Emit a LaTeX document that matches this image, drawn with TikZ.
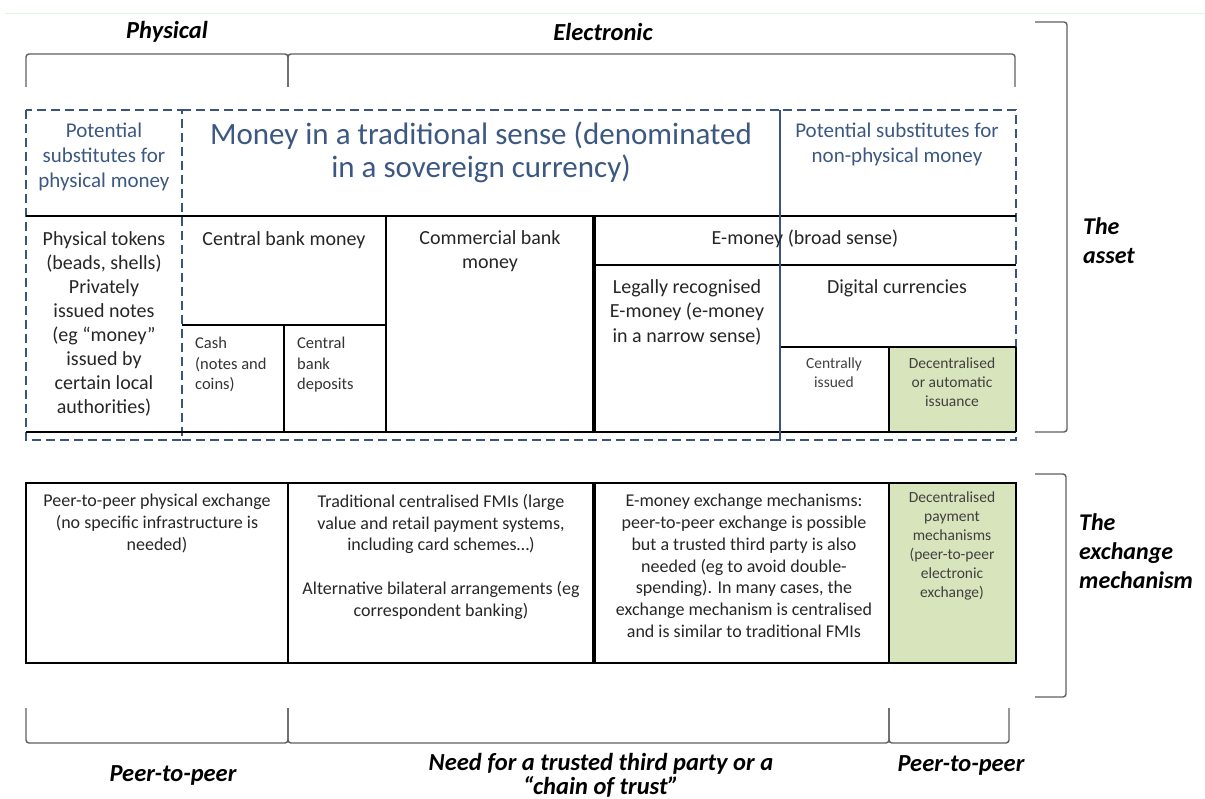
\documentclass[tikz,border=0pt]{standalone}
\usepackage{fontspec}
\setmainfont{Carlito}
\usetikzlibrary{positioning}
\definecolor{dashblue}{RGB}{58,84,125}
\definecolor{headblue}{RGB}{60,88,130}
\definecolor{cellgreen}{RGB}{216,228,188}
\definecolor{bracegray}{RGB}{95,95,95}
\definecolor{faintgreen}{RGB}{222,245,222}
\newcommand{\fsz}[2]{\fontsize{#1}{#2}\selectfont}

\begin{document}
\begin{tikzpicture}[x=1pt,y=-1pt,
    rule/.style={draw=black,line width=2.2pt},
    thinrule/.style={draw=black,line width=1.4pt},
    boldrule/.style={draw=black,line width=3.4pt},
    dashbox/.style={draw=dashblue,line width=2.8pt,dash pattern=on 9pt off 5pt},
    bracket/.style={draw=bracegray,line width=1.4pt,rounded corners=3pt},
    txt/.style={inner sep=0pt,anchor=north,align=center,text=black!85,font=\fsz{20}{24}},
    small/.style={inner sep=0pt,anchor=north west,align=left,text=black!80,font=\fsz{16.5}{20.5}},
    tiny/.style={inner sep=0pt,anchor=north,align=center,text=black!75,font=\fsz{15.5}{19}},
    mech/.style={inner sep=0pt,anchor=north,align=center,text=black!85,font=\fsz{18}{21.8}},
    head/.style={inner sep=0pt,anchor=north,align=center,text=headblue},
    side/.style={inner sep=0pt,anchor=north west,align=left,font=\fsz{24}{29}\bfseries\itshape},
    grp/.style={inner sep=0pt,align=center,font=\fsz{24.5}{28}\bfseries\itshape}]

    \useasboundingbox (0,0) rectangle (1205,799);
    \draw[faintgreen,line width=0.8pt] (5,13) -- (1205,13);

    % group labels
    \node[grp] (phys) at (167,32) {Physical};
    \node[grp] (elec) at (603,32) {Electronic};
    \draw[bracket] (26,87) |- (288,54) -- (288,87);
    \draw[bracket] (288,87) |- (1015,54) -- (1015,87);

    % the asset
    \fill[cellgreen] (889,347) rectangle (1016,432);
    \draw[dashbox] (26,110) rectangle (182,440);
    \draw[dashbox] (182,110) -- (780,110) (182,440) -- (780,440);
    \draw[dashbox] (780,110) rectangle (1016,440);

    \draw[rule] (26,216) -- (1016,216) (26,432) -- (1016,432);
    \draw[thinrule] (182,325) -- (386,325) (284,325) -- (284,432);
    \draw[rule] (386,216) -- (386,432);
    \draw[boldrule] (594,216) -- (594,432);
    \draw[rule] (594,265) -- (1016,265) (780,347) -- (1016,347);
    \draw[rule] (889,347) -- (889,432) (1016,347) -- (1016,432);
    \draw[dashblue,line width=2.4pt] (780,110) -- (780,440);

    \node[head,font=\fsz{21}{25}] (subphys) at (104,123) {Potential\\substitutes for\\physical money};
    \node[head,font=\fsz{31}{33}] (trad) at (481,122) {Money in a traditional sense (denominated\\in a sovereign currency)};
    \node[head,font=\fsz{21}{25}] (subnon) at (897,123) {Potential substitutes for\\non-physical money};

    \node[txt] (tokens) at (104,231) {Physical tokens\\(beads, shells)\\Privately\\issued notes\\(eg “money”\\issued by\\certain local\\authorities)};
    \node[txt] (cbm) at (284,231) {Central bank money};
    \node[small] (cash) at (195,337) {Cash\\(notes and\\coins)};
    \node[small] (cbdep) at (297,337) {Central\\bank\\deposits};
    \node[txt] (combank) at (490,230) {Commercial bank\\money};
    \node[txt] (emoney) at (805,230) {E-money (broad sense)};
    \node[txt,font=\fsz{20}{24.5}] (legal) at (687,279) {Legally recognised\\E-money (e-money\\in a narrow sense)};
    \node[txt] (digital) at (897,279) {Digital currencies};
    \node[tiny] (central) at (834,358) {Centrally\\issued};
    \node[tiny] (decent) at (952,358) {Decentralised\\or automatic\\issuance};

    \draw[bracket] (1035,22) -| (1067,432) -- (1035,432);
    \node[side] (asset) at (1083,217) {The\\asset};

    % the exchange mechanism
    \fill[cellgreen] (889,483) rectangle (1016,663);
    \draw[rule] (26,483) rectangle (1016,663);
    \draw[rule] (288,483) -- (288,663) (889,483) -- (889,663);
    \draw[boldrule] (594,483) -- (594,663);

    \node[mech] (physex) at (157,494) {Peer-to-peer physical exchange\\(no specific infrastructure is\\needed)};
    \node[mech] (fmi) at (441,494) {Traditional centralised FMIs (large\\value and retail payment systems,\\including card schemes…)\\[21.8pt]Alternative bilateral arrangements (eg\\correspondent banking)};
    \node[mech] (emex) at (744,494) {E-money exchange mechanisms:\\peer-to-peer exchange is possible\\but a trusted third party is also\\needed (eg to avoid double-\\spending). In many cases, the\\exchange mechanism is centralised\\and is similar to traditional FMIs};
    \node[tiny] (decpay) at (952,492) {Decentralised\\payment\\mechanisms\\(peer-to-peer\\electronic\\exchange)};

    \draw[bracket] (1035,474) -| (1066,697) -- (1035,697);
    \node[side] (exch) at (1079,513) {The\\exchange\\mechanism};

    \draw[bracket] (26,708) |- (288,743) -- (288,708);
    \draw[bracket] (288,708) |- (889,743) -- (889,708);
    \draw[bracket] (889,708) |- (1009,743) -- (1009,708);
    \node[grp] (ptpa) at (173,775) {Peer-to-peer};
    \node[grp,anchor=north,font=\fsz{24.5}{24.5}\bfseries\itshape] (trust) at (601,753) {Need for a trusted third party or a\\“chain of trust”};
    \node[grp] (ptpb) at (961,765) {Peer-to-peer};
\end{tikzpicture}
\end{document}
